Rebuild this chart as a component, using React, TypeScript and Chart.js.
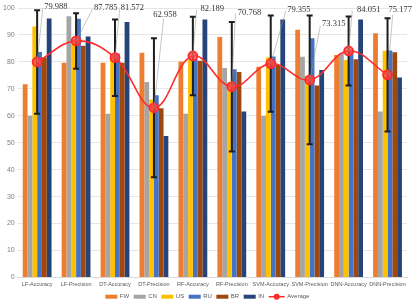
import React, { useEffect, useRef } from 'react';
import { Chart, registerables } from 'chart.js';

Chart.register(...registerables);

const categories = [
  'LF-Accuracy', 'LF-Precision', 'DT-Accuracy', 'DT-Precision', 'RF-Accuracy',
  'RF-Precision', 'SVM-Accuracy', 'SVM-Precision', 'DNN-Accuracy', 'DNN-Precision',
];
const FW = [71.7, 79.7, 79.7, 83.4, 80.1, 89.2, 78.2, 91.9, 82.6, 90.6];
const CN = [60.0, 96.9, 60.7, 72.5, 60.7, 77.7, 59.9, 81.9, 83.2, 61.6];
const US = [93.1, 87.8, 82.5, 66.0, 80.7, 72.5, 81.7, 74.7, 80.7, 84.1];
const RU = [83.7, 96.0, 83.0, 67.6, 81.0, 77.3, 82.0, 88.8, 83.8, 84.2];
const BR = [81.6, 86.0, 79.7, 62.8, 80.4, 76.2, 78.8, 71.2, 81.0, 83.6];
const IN = [96.1, 89.4, 94.8, 52.5, 95.7, 61.6, 95.7, 77.0, 95.7, 74.2];
const AVERAGE = [79.988, 87.785, 81.572, 62.958, 82.189, 70.768, 79.355, 73.315, 84.051, 75.177];
const ERROR = [19.2, 10.3, 14.2, 25.8, 14.6, 24.0, 17.9, 23.9, 12.8, 21.0];
const AVG_LABELS = ['79.988', '87.785', '81.572', '62.958', '82.189', '70.768', '79.355', '73.315', '84.051', '75.177'];
const Y_MIN = 0;
const Y_MAX = 100;
const Y_STEP = 10;

const SERIES = [
  { label: 'FW', data: FW, color: '#ED7D31' },
  { label: 'CN', data: CN, color: '#A5A5A5' },
  { label: 'US', data: US, color: '#FFC000' },
  { label: 'RU', data: RU, color: '#4472C4' },
  { label: 'BR', data: BR, color: '#9E480E' },
  { label: 'IN', data: IN, color: '#264478' },
];
const LINE_COLOR = '#FF2B2B';

// label placement (style): x offset from point, y from chart top; leader end relative to label start
const LABEL_STYLE = {
  dx: [7, 18, 5.7, -0.6, 7.7, 6, 16.4, 12.4, 8.4, 1],
  y: [-1.3, -0.3, 0.2, 6.7, 0.7, 5.2, 1.7, 15.7, 1.7, 1.7],
  leadDx: [-1.3, -1.3, -1, 10.3, -4, -2.3, -1.2, -1.7, -4.7, 4.2],
  leadDy: [1, 1, 0.5, 4, 1, 0.5, 1, 2, 1, 5],
};

const LINE_INDEX = SERIES.length;

const overlayPlugin = {
  id: 'overlay',
  beforeDatasetDraw(chart: any, args: any) {
    if (args.index !== LINE_INDEX) return;
    const { ctx } = chart;
    const meta = chart.getDatasetMeta(LINE_INDEX);
    const ys = chart.scales.y;
    ctx.save();
    ctx.strokeStyle = '#1E1E1E';
    ctx.lineWidth = 2;
    meta.data.forEach((pt: any, i: number) => {
      const x = pt.x;
      const yTop = ys.getPixelForValue(AVERAGE[i] + ERROR[i]);
      const yBot = ys.getPixelForValue(AVERAGE[i] - ERROR[i]);
      ctx.beginPath();
      ctx.moveTo(x, yTop);
      ctx.lineTo(x, yBot);
      ctx.moveTo(x - 3, yTop);
      ctx.lineTo(x + 3, yTop);
      ctx.moveTo(x - 3, yBot);
      ctx.lineTo(x + 3, yBot);
      ctx.stroke();
    });
    ctx.restore();
  },
  afterDatasetsDraw(chart: any) {
    const { ctx, chartArea } = chart;
    const meta = chart.getDatasetMeta(LINE_INDEX);
    ctx.save();
    meta.data.forEach((pt: any, i: number) => {
      const lx = pt.x + LABEL_STYLE.dx[i];
      const ly = chartArea.top + LABEL_STYLE.y[i];
      ctx.strokeStyle = 'rgba(150,150,150,0.9)';
      ctx.lineWidth = 0.6;
      ctx.beginPath();
      ctx.moveTo(pt.x, pt.y);
      ctx.lineTo(lx + LABEL_STYLE.leadDx[i], ly + LABEL_STYLE.leadDy[i]);
      ctx.stroke();
      ctx.fillStyle = '#333333';
      ctx.font = '8.5px "Liberation Serif"';
      ctx.textBaseline = 'middle';
      ctx.textAlign = 'left';
      ctx.fillText(AVG_LABELS[i], lx, ly);
    });
    ctx.restore();
  },
  afterDraw(chart: any) {
    // legend
    const { ctx } = chart;
    ctx.save();
    ctx.font = '6px "Liberation Sans"';
    ctx.textBaseline = 'middle';
    ctx.textAlign = 'left';
    const y = 296.7;
    const boxW = 12;
    const gap = 2.5;
    const spacing = 4.5;
    const items = [
      ...SERIES.map((s) => ({ label: s.label, color: s.color, line: false })),
      { label: 'Average', color: LINE_COLOR, line: true },
    ];
    const widths = items.map((it) => (it.line ? 16 : boxW) + gap + ctx.measureText(it.label).width);
    const total = widths.reduce((a, b) => a + b, 0) + spacing * (items.length - 1);
    let x = 207.4 - total / 2;
    items.forEach((it, i) => {
      if (it.line) {
        ctx.strokeStyle = it.color;
        ctx.lineWidth = 1.5;
        ctx.beginPath();
        ctx.moveTo(x, y);
        ctx.lineTo(x + 16, y);
        ctx.stroke();
        ctx.fillStyle = it.color;
        ctx.beginPath();
        ctx.arc(x + 8, y, 3, 0, Math.PI * 2);
        ctx.fill();
        ctx.fillStyle = '#595959';
        ctx.fillText(it.label, x + 16 + gap, y);
      } else {
        ctx.fillStyle = it.color;
        ctx.fillRect(x, y - 2, boxW, 4);
        ctx.fillStyle = '#595959';
        ctx.fillText(it.label, x + boxW + gap, y);
      }
      x += widths[i] + spacing;
    });
    ctx.restore();
  },
};

export default function App() {
  const ref = useRef<HTMLCanvasElement>(null);
  useEffect(() => {
    document.body.style.margin = '0';
    const datasets: any[] = SERIES.map((s) => ({
      type: 'bar',
      label: s.label,
      data: s.data,
      backgroundColor: s.color,
      borderWidth: 0,
      categoryPercentage: 0.74,
      barPercentage: 1.0,
      order: 1,
    }));
    datasets.push({
      type: 'line',
      label: 'Average',
      data: AVERAGE,
      borderColor: LINE_COLOR,
      borderWidth: 1.6,
      backgroundColor: LINE_COLOR,
      pointRadius: 4.5,
      pointBackgroundColor: 'rgba(255,70,70,0.8)',
      pointBorderColor: LINE_COLOR,
      pointBorderWidth: 1.8,
      tension: 0.4,
      fill: false,
      order: 0,
    });
    const chart = new Chart(ref.current!, {
      type: 'bar',
      data: { labels: categories, datasets },
      options: {
        responsive: false,
        animation: false,
        layout: { padding: { top: 8, left: 0, right: 8, bottom: 14 } },
        plugins: {
          tooltip: { enabled: false },
          legend: { display: false },
        },
        scales: {
          x: {
            grid: { display: false, drawTicks: false },
            border: { color: '#D9D9D9' },
            ticks: {
              color: '#595959',
              font: { size: 5.5, family: '"Liberation Sans"' },
              padding: 3.5,
              maxRotation: 0,
              autoSkip: false,
            },
          },
          y: {
            min: Y_MIN,
            max: Y_MAX,
            ticks: {
              stepSize: Y_STEP,
              color: '#7F7F7F',
              font: { size: 7, family: '"Liberation Sans"' },
              padding: 3,
            },
            grid: { color: '#E6E6E6', drawTicks: false },
            border: { display: false },
          },
        },
      },
      plugins: [overlayPlugin],
    } as any);
    return () => chart.destroy();
  }, []);
  return (
    <div style={{ width: 415, height: 305 }}>
      <canvas ref={ref} width={415} height={305} style={{ display: 'block' }} />
    </div>
  );
}
